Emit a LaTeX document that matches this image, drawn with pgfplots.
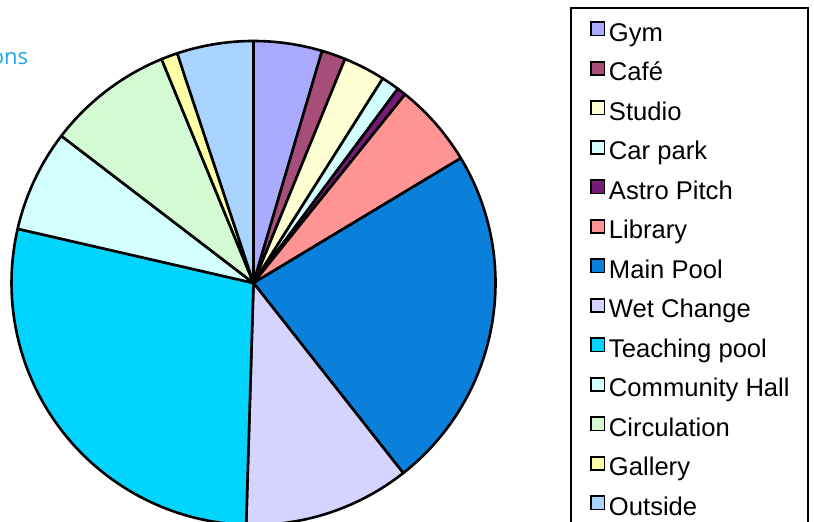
\documentclass[border=0pt]{standalone}
\usepackage{pgfplots}
\usepackage{pgfplotstable}
\pgfplotsset{compat=1.18}
\usepackage{fontspec}
\setmainfont{Liberation Sans}
\newfontfamily\titlefont{Open Sans}

\definecolor{titleblue}{HTML}{1AA7EC}
\definecolor{cGym}{HTML}{AAAAFF}
\definecolor{cCafe}{HTML}{A64D7A}
\definecolor{cStudio}{HTML}{FFFFD4}
\definecolor{cCarpark}{HTML}{D4FFFF}
\definecolor{cAstro}{HTML}{761C76}
\definecolor{cLibrary}{HTML}{FF9494}
\definecolor{cMain}{HTML}{0A80DA}
\definecolor{cWet}{HTML}{D4D4FF}
\definecolor{cTeach}{HTML}{00D4FF}
\definecolor{cComm}{HTML}{D4FFFF}
\definecolor{cCirc}{HTML}{D4FAD4}
\definecolor{cGallery}{HTML}{FFFFA8}
\definecolor{cOutside}{HTML}{A8D4FF}

% share of floor area per space, in percent
\pgfplotstableread[col sep=comma]{
area,share,colour
Gym,4.57,cGym
Café,1.6,cCafe
Studio,2.8,cStudio
Car park,1.2,cCarpark
Astro Pitch,0.6,cAstro
Library,5.6,cLibrary
Main Pool,23.0,cMain
Wet Change,11.1,cWet
Teaching pool,28.1,cTeach
Community Hall,6.8,cComm
Circulation,8.4,cCirc
Gallery,1.1,cGallery
Outside,5.1,cOutside
}\rooms

\begin{document}
\begin{tikzpicture}
\useasboundingbox (0,0) rectangle (407pt,261pt);
\clip (0,0) rectangle (407pt,261pt);
\begin{axis}[
    hide axis,
    scale only axis,
    width=407pt, height=261pt,
    xmin=0, xmax=814, ymin=0, ymax=522,
    legend image code/.code={\draw[#1,line width=0.9pt] (0pt,0pt) rectangle (6.6pt,6.6pt);},
    legend style={
        at={(axis description cs:0.7248,0.9598)}, anchor=north west,
        draw=none, fill=none, inner sep=0pt,
        font=\fontsize{12.8pt}{15pt}\selectfont,
        nodes={inner sep=0pt, text height=9pt, text depth=3pt},
        row sep=6.7pt,
        /tikz/every odd column/.append style={column sep=1.8pt},
    },
    legend cell align=left,
    cells={anchor=base west},
]
\pgfplotstablegetrowsof{\rooms}
\pgfmathtruncatemacro{\last}{\pgfplotsretval-1}
\def\tot{0}
\pgfplotsforeachungrouped \i in {0,...,\last}{%
    \pgfplotstablegetelem{\i}{share}\of\rooms
    \pgfmathsetmacro{\tot}{\tot+\pgfplotsretval}%
}
\pgfmathsetmacro{\degper}{360/\tot}
\def\cum{0}
\pgfplotsforeachungrouped \i in {0,...,\last}{%
    \pgfplotstablegetelem{\i}{share}\of\rooms \let\val\pgfplotsretval
    \pgfplotstablegetelem{\i}{colour}\of\rooms \let\col\pgfplotsretval
    \pgfplotstablegetelem{\i}{area}\of\rooms \let\name\pgfplotsretval
    \pgfmathsetmacro{\a}{90-\degper*\cum}%
    \pgfmathsetmacro{\cum}{\cum+\val}%
    \pgfmathsetmacro{\b}{90-\degper*\cum}%
    \edef\temp{\noexpand\filldraw[fill=\col, draw=black, line width=1.3pt, line join=round]
        (axis cs:253.5,239) -- ++(\a:121pt) arc[start angle=\a, end angle=\b, radius=121pt] -- cycle;}%
    \temp
    \edef\temp{\noexpand\addlegendimage{fill=\col, draw=black}\noexpand\addlegendentry{\name}}%
    \temp
}
\draw[line width=1.2pt] (axis cs:571,514) rectangle (axis cs:808,-20);
\node[anchor=base east, inner sep=0pt, text=titleblue,
      font=\titlefont\fontsize{11pt}{13pt}\selectfont] at (axis cs:28.5,457) {ons};
\end{axis}
\end{tikzpicture}
\end{document}
